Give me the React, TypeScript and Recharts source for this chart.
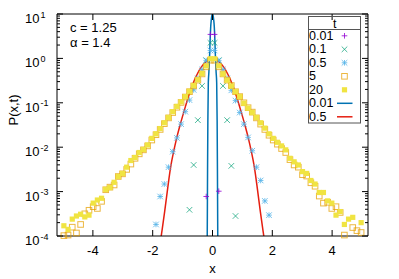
import { ComposedChart, Scatter, Line, XAxis, YAxis, Legend } from "recharts";

const FONT = '"Liberation Sans", Arial, Helvetica, sans-serif';

// histogram bin centres shared by the long-time samples
const X_BINS = [
  -4.97, -4.83, -4.69, -4.55, -4.41, -4.27, -4.13, -3.99, -3.85, -3.71, -3.57, -3.43,
  -3.29, -3.15, -3.01, -2.87, -2.73, -2.59, -2.45, -2.31, -2.17, -2.03, -1.89, -1.75,
  -1.61, -1.47, -1.33, -1.19, -1.05, -0.91, -0.77, -0.63, -0.49, -0.35, -0.21, -0.07,
  0.07, 0.21, 0.35, 0.49, 0.63, 0.77, 0.91, 1.05, 1.19, 1.33, 1.47, 1.61,
  1.75, 1.89, 2.03, 2.17, 2.31, 2.45, 2.59, 2.73, 2.87, 3.01, 3.15, 3.29,
  3.43, 3.57, 3.71, 3.85, 3.99, 4.13, 4.27, 4.41, 4.55, 4.69, 4.83, 4.97,
];

const P_T20 = [
  1.7e-4, 1.41e-4, 2.4e-4, 2.82e-4, 3.09e-4, 2.69e-4, 2.95e-4, 5.5e-4, 6.46e-4, 7.08e-4, 1.12e-3, 1.23e-3,
  1.62e-3, 2.19e-3, 2.57e-3, 3.55e-3, 5.01e-3, 5.89e-3, 7.59e-3, 8.91e-3, 1.12e-2, 1.58e-2, 2.0e-2, 2.63e-2,
  3.55e-2, 4.68e-2, 6.31e-2, 8.32e-2, 0.105, 0.138, 0.182, 0.245, 0.331, 0.457, 0.676, 0.98,
  0.98, 0.676, 0.447, 0.324, 0.24, 0.178, 0.138, 9.77e-2, 7.59e-2, 6.03e-2, 4.68e-2, 3.55e-2,
  2.69e-2, 2.0e-2, 1.58e-2, 1.29e-2, 1.07e-2, 8.71e-3, 5.62e-3, 4.68e-3, 3.98e-3, 2.82e-3, 2.57e-3, 1.78e-3,
  1.48e-3, 9.55e-4, 9.55e-4, 6.17e-4, 5.5e-4, 2.95e-4, 3.55e-4, 1.82e-4, 2.4e-4, 2.63e-4, null, 2.0e-4,
];

const P_T5 = [
  1.02e-4, 1.05e-4, 1.58e-4, 1.17e-4, 1.82e-4, 3.16e-4, 3.8e-4, 4.57e-4, 4.17e-4, 6.03e-4, 1.1e-3, 1.26e-3,
  1.41e-3, 2.19e-3, 2.51e-3, 3.16e-3, 4.17e-3, 5.62e-3, 7.08e-3, 8.71e-3, 1.07e-2, 1.45e-2, 1.91e-2, 2.51e-2,
  3.39e-2, 4.57e-2, 6.03e-2, 7.94e-2, 0.102, 0.135, 0.178, 0.24, 0.324, 0.447, 0.646, 0.912,
  0.912, 0.646, 0.447, 0.324, 0.245, 0.178, 0.138, 0.1, 7.76e-2, 6.17e-2, 4.57e-2, 3.31e-2,
  2.51e-2, 1.86e-2, 1.45e-2, 1.17e-2, 9.33e-3, 7.59e-3, 5.25e-3, 3.98e-3, 3.55e-3, 2.4e-3, 2.24e-3, 1.58e-3,
  1.32e-3, 7.94e-4, 5.5e-4, 5.75e-4, 4.17e-4, 4.57e-4, 3.39e-4, 1.05e-4, null, 1.55e-4, 1.32e-4, 1.2e-4,
];

const X_T05 = [
  -1.89, -1.75, -1.61, -1.47, -1.33, -1.19, -1.05, -0.91, -0.77, -0.63, -0.49, -0.35, -0.21, -0.07,
  0.07, 0.21, 0.35, 0.49, 0.63, 0.77, 0.91, 1.05, 1.19, 1.33, 1.47, 1.61, 1.75, 1.89,
];
const P_T05 = [
  1.82e-4, 7.76e-4, 1.48e-3, 3.55e-3, 7.94e-3, 1.62e-2, 3.31e-2, 6.31e-2, 0.115, 0.195, 0.355, 0.562, 0.891, 1.51,
  1.51, 0.891, 0.562, 0.355, 0.191, 0.112, 6.03e-2, 3.31e-2, 1.66e-2, 8.32e-3, 3.55e-3, 1.78e-3, 6.17e-4, 2.95e-4,
];

const X_T01 = [-0.77, -0.63, -0.49, -0.35, -0.21, -0.07, 0.07, 0.21, 0.35, 0.49, 0.63, 0.77];
const P_T01 = [3.89e-4, 3.98e-3, 4.07e-2, 0.24, 0.912, 2.24, 2.24, 0.912, 0.24, 4.07e-2, 3.8e-3, 2.82e-4];

const X_T001 = [-0.21, -0.07, 0.07, 0.21];
const P_T001 = [7.76e-4, 3.47, 3.47, 1.02e-3];

// analytic curves
const X_FIT001 = [
  -0.18, -0.172, -0.165, -0.155, -0.14, -0.12, -0.1, -0.08, -0.06, -0.04, -0.02, 0,
  0.02, 0.04, 0.06, 0.08, 0.1, 0.12, 0.14, 0.155, 0.165, 0.172, 0.18,
];
const P_FIT001 = [
  3.16e-5, 3.16e-4, 3.16e-3, 3.98e-2, 0.282, 0.501, 1.0, 2.51, 5.13, 7.41, 9.33, 10.0,
  9.33, 7.41, 5.13, 2.51, 1.0, 0.501, 0.282, 3.98e-2, 3.16e-3, 3.16e-4, 3.16e-5,
];

const X_FIT05 = [
  -1.8, -1.7, -1.6, -1.5, -1.4, -1.3, -1.2, -1.1, -1.0, -0.9, -0.8, -0.7, -0.6, -0.5, -0.4, -0.3, -0.2, -0.1, 0,
  0.1, 0.2, 0.3, 0.4, 0.5, 0.6, 0.7, 0.8, 0.9, 1.0, 1.1, 1.2, 1.3, 1.4, 1.5, 1.6, 1.7, 1.8,
];
const P_FIT05 = [
  3.98e-5, 1.17e-4, 3.55e-4, 1.17e-3, 3.55e-3, 7.94e-3, 1.58e-2, 2.88e-2, 5.01e-2, 8.51e-2, 0.141, 0.219, 0.331,
  0.457, 0.603, 0.741, 0.851, 0.933, 0.955,
  0.933, 0.851, 0.741, 0.603, 0.457, 0.331, 0.219, 0.141, 8.51e-2, 5.01e-2, 2.88e-2, 1.58e-2, 7.94e-3, 3.55e-3,
  1.17e-3, 3.55e-4, 1.17e-4, 3.98e-5,
];

const X_TICKS = [-4, -2, 0, 2, 4];
const Y_DECADES = [-4, -3, -2, -1, 0, 1];
const PARAM_LINES = ["c = 1.25", "\u03b1 = 1.4"];

const COLORS = {
  t001: "#9400d3",
  t01: "#009e73",
  t05: "#56b4e9",
  t5: "#e69f00",
  t20: "#f0e442",
  fit001: "#0072b2",
  fit05: "#e51e10",
};

type Kind = "plus" | "cross" | "star" | "box" | "fbox" | "line";

const KEY: { label: string; kind: Kind; color: string }[] = [
  { label: "0.01", kind: "plus", color: COLORS.t001 },
  { label: "0.1", kind: "cross", color: COLORS.t01 },
  { label: "0.5", kind: "star", color: COLORS.t05 },
  { label: "5", kind: "box", color: COLORS.t5 },
  { label: "20", kind: "fbox", color: COLORS.t20 },
  { label: "0.01", kind: "line", color: COLORS.fit001 },
  { label: "0.5", kind: "line", color: COLORS.fit05 },
];

const zip = (xs: number[], ps: (number | null)[]) =>
  xs.map((x, i) => ({ x, y: ps[i] })).filter((d) => d.y != null);

// log axis: decades plus 2..9 minors
const Y_TICKS: number[] = [];
Y_DECADES.forEach((d, i) => {
  const last = i === Y_DECADES.length - 1;
  for (let m = 1; m <= (last ? 1 : 9); m++) {
    Y_TICKS.push(Number((m * Math.pow(10, d)).toPrecision(6)));
  }
});

const isDecade = (v: number) => {
  const e = Math.log10(v);
  return Math.abs(e - Math.round(e)) < 1e-9;
};

function Mark({ kind, cx, cy, color }: { kind: Kind; cx: number; cy: number; color: string }) {
  const s = 2.8;
  const plus = `M${cx - s},${cy}H${cx + s}M${cx},${cy - s}V${cy + s}`;
  const cross = `M${cx - s},${cy - s}L${cx + s},${cy + s}M${cx - s},${cy + s}L${cx + s},${cy - s}`;
  switch (kind) {
    case "plus":
      return <path d={plus} stroke={color} fill="none" strokeOpacity={0.8} />;
    case "cross":
      return <path d={cross} stroke={color} fill="none" strokeOpacity={0.7} />;
    case "star":
      return <path d={plus + cross} stroke={color} fill="none" strokeOpacity={0.8} />;
    case "box":
      return <rect x={cx - 2.8} y={cy - 2.8} width={5.6} height={5.6} stroke={color} fill="none" strokeOpacity={0.75} />;
    case "fbox":
      return <rect x={cx - 2.6} y={cy - 2.6} width={5.2} height={5.2} fill={color} />;
    default:
      return <path d={`M${cx - 7.5},${cy}H${cx + 8}`} stroke={color} strokeWidth={1.5} />;
  }
}

const shapeOf = (kind: Kind, color: string) => (p: any) => <Mark kind={kind} cx={p.cx} cy={p.cy} color={color} />;

function LeftTick({ x, y, payload }: any) {
  const v = payload.value as number;
  const major = isDecade(v);
  return (
    <g>
      <line x1={x} x2={x + (major ? 6 : 3)} y1={y} y2={y} stroke="#000" />
      {major && (
        <text x={x - 17.5} y={y + 9} textAnchor="end" fontFamily={FONT} fontSize={13} fill="#000">
          10
        </text>
      )}
      {major && (
        <text x={x - 16.5} y={y + 3.5} fontFamily={FONT} fontSize={9} fill="#000">
          {Math.round(Math.log10(v))}
        </text>
      )}
    </g>
  );
}

function RightTick({ x, y, payload }: any) {
  const major = isDecade(payload.value);
  return <line x1={x} x2={x - (major ? 6 : 3)} y1={y} y2={y} stroke="#000" />;
}

function BottomTick({ x, y, payload }: any) {
  return (
    <g>
      <line x1={x} x2={x} y1={y} y2={y - 6} stroke="#000" />
      <text x={x} y={y + 19} textAnchor="middle" fontFamily={FONT} fontSize={13} fill="#000">
        {payload.value}
      </text>
    </g>
  );
}

function TopTick({ x, y }: any) {
  return <line x1={x} x2={x} y1={y} y2={y + 6} stroke="#000" />;
}

function KeyOverlay() {
  const left = 308.5;
  const width = 52;
  const top = 16.5;
  return (
    <svg width={399} height={279} style={{ position: "absolute", left: 0, top: 0 }}>
      {PARAM_LINES.map((t, i) => (
        <text key={t} x={70} y={31.5 + i * 15} fontFamily={FONT} fontSize={13} fill="#000">
          {t}
        </text>
      ))}
      <rect x={left} y={top} width={width} height={106.5} fill="none" stroke="#555" />
      <line x1={left} x2={left + width} y1={29.5} y2={29.5} stroke="#555" />
      <text x={334.7} y={28} textAnchor="middle" fontFamily={FONT} fontSize={12.5} fill="#000">
        t
      </text>
      {KEY.map((k, i) => {
        const base = 39.5 + i * 13.5;
        return (
          <g key={i}>
            <text x={309} y={base} fontFamily={FONT} fontSize={12.5} fill="#000">
              {k.label}
            </text>
            <Mark kind={k.kind} cx={344.5} cy={base - 3.7} color={k.color} />
          </g>
        );
      })}
    </svg>
  );
}

export default function App() {
  return (
    <div style={{ position: "absolute", left: 0, top: 0, background: "#fff" }}>
      <ComposedChart width={399} height={279} margin={{ top: 0, right: 0, bottom: 0, left: 0 }}>
        <XAxis
          dataKey="x"
          type="number"
          domain={[-5.2, 5.2]}
          allowDataOverflow
          ticks={X_TICKS}
          height={43}
          tickSize={0}
          tickMargin={0}
          tickLine={false}
          tick={<BottomTick />}
          axisLine={{ stroke: "#000" }}
          label={{
            content: (p: any) => (
              <text
                x={p.viewBox.x + p.viewBox.width / 2}
                y={p.viewBox.y + 37}
                textAnchor="middle"
                fontFamily={FONT}
                fontSize={13}
              >
                x
              </text>
            ),
          }}
        />
        <XAxis
          xAxisId="top"
          orientation="top"
          dataKey="x"
          type="number"
          domain={[-5.2, 5.2]}
          allowDataOverflow
          ticks={X_TICKS}
          height={14}
          tickSize={0}
          tickMargin={0}
          tickLine={false}
          tick={<TopTick />}
          axisLine={{ stroke: "#000" }}
        />
        <YAxis
          yAxisId="left"
          dataKey="y"
          scale="log"
          domain={[1e-4, 10]}
          allowDataOverflow
          ticks={Y_TICKS}
          interval={0}
          width={57}
          tickSize={0}
          tickMargin={0}
          tickLine={false}
          tick={<LeftTick />}
          axisLine={{ stroke: "#000" }}
          label={{
            content: (p: any) => {
              const cx = p.viewBox.x + 18;
              const cy = p.viewBox.y + p.viewBox.height / 2 - 15;
              return (
                <text
                  transform={`translate(${cx},${cy}) rotate(-90)`}
                  textAnchor="middle"
                  fontFamily={FONT}
                  fontSize={13}
                >
                  P(x,t)
                </text>
              );
            },
          }}
        />
        <YAxis
          yAxisId="right"
          orientation="right"
          dataKey="y"
          scale="log"
          domain={[1e-4, 10]}
          ticks={Y_TICKS}
          interval={0}
          width={31}
          tickSize={0}
          tickMargin={0}
          tickLine={false}
          tick={<RightTick />}
          axisLine={{ stroke: "#000" }}
        />
        <Scatter yAxisId="right" data={zip(X_T001, P_T001)} dataKey="y" shape={shapeOf("plus", COLORS.t001)} isAnimationActive={false} />
        <Scatter yAxisId="right" data={zip(X_T01, P_T01)} dataKey="y" shape={shapeOf("cross", COLORS.t01)} isAnimationActive={false} />
        <Scatter yAxisId="right" data={zip(X_T05, P_T05)} dataKey="y" shape={shapeOf("star", COLORS.t05)} isAnimationActive={false} />
        <Scatter yAxisId="right" data={zip(X_BINS, P_T5)} dataKey="y" shape={shapeOf("box", COLORS.t5)} isAnimationActive={false} />
        <Scatter yAxisId="right" data={zip(X_BINS, P_T20)} dataKey="y" shape={shapeOf("fbox", COLORS.t20)} isAnimationActive={false} />
        <Line
          yAxisId="left"
          data={zip(X_FIT001, P_FIT001)}
          dataKey="y"
          type="monotone"
          stroke={COLORS.fit001}
          strokeWidth={1.5}
          dot={false}
          activeDot={false}
          isAnimationActive={false}
        />
        <Line
          yAxisId="left"
          data={zip(X_FIT05, P_FIT05)}
          dataKey="y"
          type="monotone"
          stroke={COLORS.fit05}
          strokeWidth={1.5}
          dot={false}
          activeDot={false}
          isAnimationActive={false}
        />
        <Legend
          layout="horizontal"
          verticalAlign="middle"
          align="center"
          content={() => <KeyOverlay />}
          wrapperStyle={{ position: "absolute", left: 0, top: 0, width: 399, height: 279, pointerEvents: "none" }}
        />
      </ComposedChart>
    </div>
  );
}
